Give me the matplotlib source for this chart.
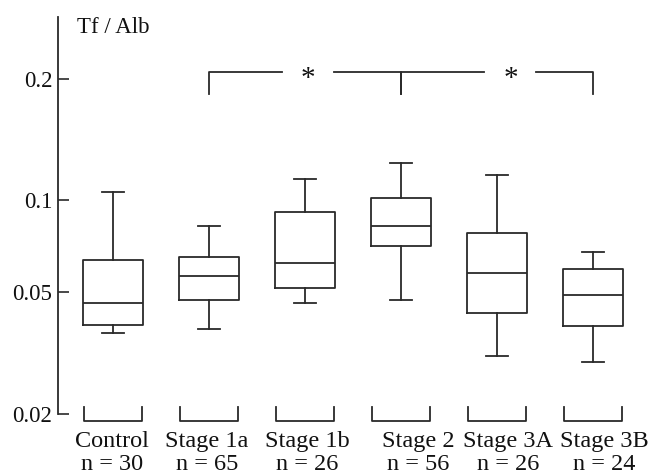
import matplotlib
matplotlib.use("Agg")
import matplotlib.pyplot as plt
import matplotlib.transforms as mtransforms
import numpy as np

plt.rcParams['font.family'] = ['Liberation Serif', 'DejaVu Serif']

# Tf/Alb ratio per group (box plot summary values)
groups = ["Control", "Stage 1a", "Stage 1b", "Stage 2", "Stage 3A", "Stage 3B"]
n_cases = [30, 65, 26, 56, 26, 24]
whis_lo = [0.0368, 0.0380, 0.0461, 0.0473, 0.0311, 0.0296]
q1 = [0.0392, 0.0471, 0.0515, 0.0706, 0.0429, 0.0388]
median = [0.0463, 0.0565, 0.0623, 0.0822, 0.0578, 0.0489]
q3 = [0.0640, 0.0653, 0.0913, 0.1013, 0.0782, 0.0598]
whis_hi = [0.1048, 0.0826, 0.113, 0.124, 0.1157, 0.0676]

# significant pairwise comparisons (group indices)
sig_pairs = [(1, 3), (3, 5)]
sig_marks = ["*", "*"]

yticks = [0.02, 0.05, 0.1, 0.2]
ytick_labels = ["0.02", "0.05", "0.1", "0.2"]

ink = "#2a2a2a"

# log axis, upper part drawn a bit stretched
stretch = 402 / 307


def fwd(v):
    l = np.log10(np.clip(v, 1e-9, None) / 0.1)
    return np.where(l < 0, l, l * stretch)


def inv(u):
    return 0.1 * 10 ** np.where(u < 0, u, u / stretch)


fig = plt.figure(figsize=(6.48, 4.75), dpi=100)
ax = fig.add_axes([58 / 648, 60.7 / 475, 582 / 648, 397.3 / 475])
ax.set_yscale('function', functions=(fwd, inv))

stats = []
for i in range(len(groups)):
    stats.append(dict(med=median[i], q1=q1[i], q3=q3[i],
                      whislo=whis_lo[i], whishi=whis_hi[i], fliers=[]))

pos = np.arange(len(groups))
lp = dict(color=ink, lw=1.3)
ax.bxp(stats, positions=pos, widths=0.625, capwidths=0.22, showfliers=False,
       boxprops=lp, medianprops=lp, whiskerprops=lp, capprops=lp)

ax.set_xlim(-0.573, 5.49)
ax.set_ylim(0.02, 0.286)

ax.set_yticks(yticks)
ax.set_yticklabels(ytick_labels)
ax.yaxis.set_minor_locator(matplotlib.ticker.NullLocator())
ax.tick_params(axis='y', direction='in', length=8, width=1.2, pad=4,
               labelsize=16.5, color=ink, labelcolor='#111')
ax.set_xticks([])

for s in ['top', 'right', 'bottom']:
    ax.spines[s].set_visible(False)
ax.spines['left'].set_color(ink)
ax.spines['left'].set_linewidth(1.3)

# small brackets under each group
tr = ax.get_xaxis_transform()
for p in pos:
    ax.plot([p - 0.3, p - 0.3, p + 0.3, p + 0.3], [0.018, -0.018, -0.018, 0.018],
            color=ink, lw=1.3, transform=tr, clip_on=False)

# group names and sample sizes, set a little right of the boxes
label_x = [-0.01, 0.98, 2.02, 3.18, 4.12, 5.12]
for x, g, n in zip(label_x, groups, n_cases):
    ax.text(x, -0.082, g, transform=tr, ha='center', va='baseline',
            fontsize=17.5, color='#111')
    ax.text(x, -0.141, f"n = {n}", transform=tr, ha='center', va='baseline',
            fontsize=17.5, color='#111')

# significance brackets
y_top = 0.2084
y_leg = 0.184
star_x = [2.03, 4.14]
star_tr = mtransforms.offset_copy(ax.transData, fig=fig, y=-14, units='dots')
for (a, b), mark, sx in zip(sig_pairs, sig_marks, star_x):
    ax.plot([a, a, sx - 0.27], [y_leg, y_top, y_top], color=ink, lw=1.3)
    ax.plot([sx + 0.27, b, b], [y_top, y_top, y_leg], color=ink, lw=1.3)
    ax.text(sx, y_top, mark, ha='center', va='baseline', fontsize=21,
            color='#111', transform=star_tr)

fig.text(77 / 648, (475 - 33) / 475, "Tf / Alb", fontsize=16.5, color='#111',
         va='baseline', ha='left')

fig.savefig("out.png", dpi=100)
